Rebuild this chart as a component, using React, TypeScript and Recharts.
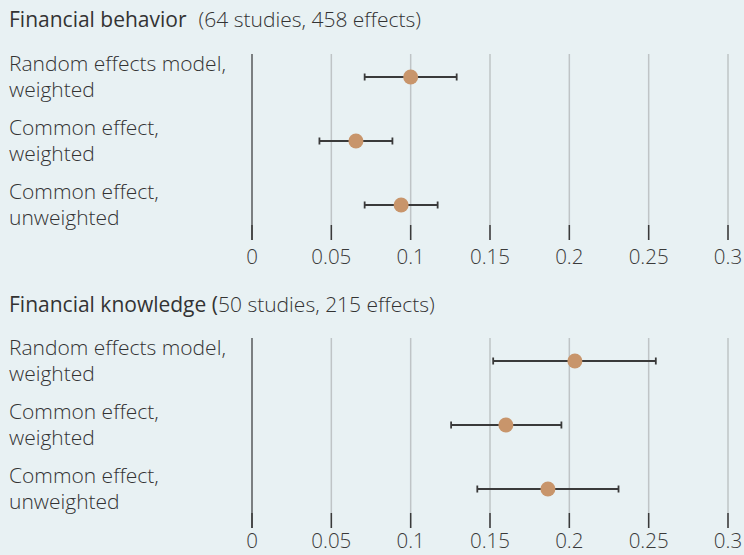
import React from "react";
import { ScatterChart, Scatter, XAxis, YAxis, CartesianGrid, ErrorBar } from "recharts";

const rowLabels: string[][] = [
  ["Random effects model,", "weighted"],
  ["Common effect,", "weighted"],
  ["Common effect,", "unweighted"],
];
const rowIds = [1, 2, 3];

const behaviorEst = [0.1, 0.0655, 0.094];
const behaviorLow = [0.071, 0.0425, 0.071];
const behaviorHigh = [0.129, 0.0885, 0.117];

const knowledgeEst = [0.2035, 0.16, 0.1865];
const knowledgeLow = [0.152, 0.1255, 0.142];
const knowledgeHigh = [0.2545, 0.195, 0.231];

const xTicks = [0, 0.05, 0.1, 0.15, 0.2, 0.25, 0.3];
const xTickLabels = ["0", "0.05", "0.1", "0.15", "0.2", "0.25", "0.3"];

const FONT = "'Open Sans', 'Noto Sans', sans-serif";
const BG = "#e8f1f3";
const DOT = "#c8956b";

function buildRows(est: number[], low: number[], high: number[]) {
  return rowIds.map((id, i) => ({
    row: id,
    est: est[i],
    err: [est[i] - low[i], high[i] - est[i]],
  }));
}

const XTick = (props: any) => {
  const { x, y, payload, labelDy } = props;
  const idx = xTicks.indexOf(payload.value);
  return (
    <g>
      <line x1={x} x2={x} y1={y - 15} y2={y} stroke="#3a3a3a" strokeWidth={1.5} />
      <text x={x} y={y + labelDy} textAnchor="middle" fontFamily={FONT} fontWeight={300} fontSize={20.5} fill="#3a3a3a">
        {idx >= 0 ? xTickLabels[idx] : payload.value}
      </text>
    </g>
  );
};

const YTick = (props: any) => {
  const { y, payload } = props;
  const lines = rowLabels[payload.value - 1] || [];
  return (
    <g>
      <text x={9} y={y - 6} textAnchor="start" fontFamily={FONT} fontWeight={300} fontSize={21} fill="#333">
        {lines[0]}
      </text>
      <text x={9} y={y + 20} textAnchor="start" fontFamily={FONT} fontWeight={300} fontSize={21} fill="#333">
        {lines[1]}
      </text>
    </g>
  );
};

const Dot = (props: any) => {
  const { cx, cy } = props;
  return <circle cx={cx} cy={cy} r={7.5} fill={DOT} />;
};

function Panel({ data, height, top, bottom, domainMax, labelDy }: any) {
  return (
    <ScatterChart
      width={744}
      height={height}
      margin={{ top, right: 16, bottom, left: 0 }}
      style={{ fontFamily: FONT, overflow: "visible" }}
    >
      <CartesianGrid horizontal={false} stroke="#bfc4c6" strokeWidth={1.5} />
      <XAxis
        type="number"
        dataKey="est"
        domain={[0, 0.3]}
        ticks={xTicks}
        interval={0}
        height={10}
        axisLine={false}
        tickLine={false}
        tickSize={0}
        tickMargin={0}
        tick={<XTick labelDy={labelDy} />}
        allowDataOverflow
      />
      <YAxis
        type="number"
        dataKey="row"
        domain={[0.6406, domainMax]}
        ticks={rowIds}
        reversed
        width={252}
        axisLine={{ stroke: "#7b7f81", strokeWidth: 2 }}
        tickLine={false}
        tick={<YTick />}
        allowDataOverflow
      />
      <Scatter data={data} shape={<Dot />} isAnimationActive={false}>
        <ErrorBar dataKey="err" direction="x" width={3.5} stroke="#3a3a3a" strokeWidth={1.8} />
      </Scatter>
    </ScatterChart>
  );
}

export default function App() {
  const behavior = buildRows(behaviorEst, behaviorLow, behaviorHigh);
  const knowledge = buildRows(knowledgeEst, knowledgeLow, knowledgeHigh);
  return (
    <div style={{ position: "absolute", top: 0, left: 0, width: 744, height: 555, background: BG, overflow: "hidden" }}>
      <svg width={744} height={555} style={{ position: "absolute", top: 0, left: 0 }}>
        <text x={9} y={27} fontFamily={FONT} fontSize={21} fill="#333">
          <tspan fontWeight={400}>Financial behavior</tspan>
          <tspan fontWeight={300} dx={12}>(64 studies, 458 effects)</tspan>
        </text>
        <text x={9} y={312} fontFamily={FONT} fontSize={21} fill="#333">
          <tspan fontWeight={400}>Financial knowledge (</tspan>
          <tspan fontWeight={300}>50 studies, 215 effects)</tspan>
        </text>
      </svg>
      <div style={{ position: "absolute", top: 0, left: 0 }}>
        <Panel data={behavior} height={284} top={54} bottom={34} domainMax={3.547} labelDy={24} />
      </div>
      <div style={{ position: "absolute", top: 284, left: 0 }}>
        <Panel data={knowledge} height={271} top={54} bottom={17} domainMax={3.609} labelDy={20} />
      </div>
    </div>
  );
}
